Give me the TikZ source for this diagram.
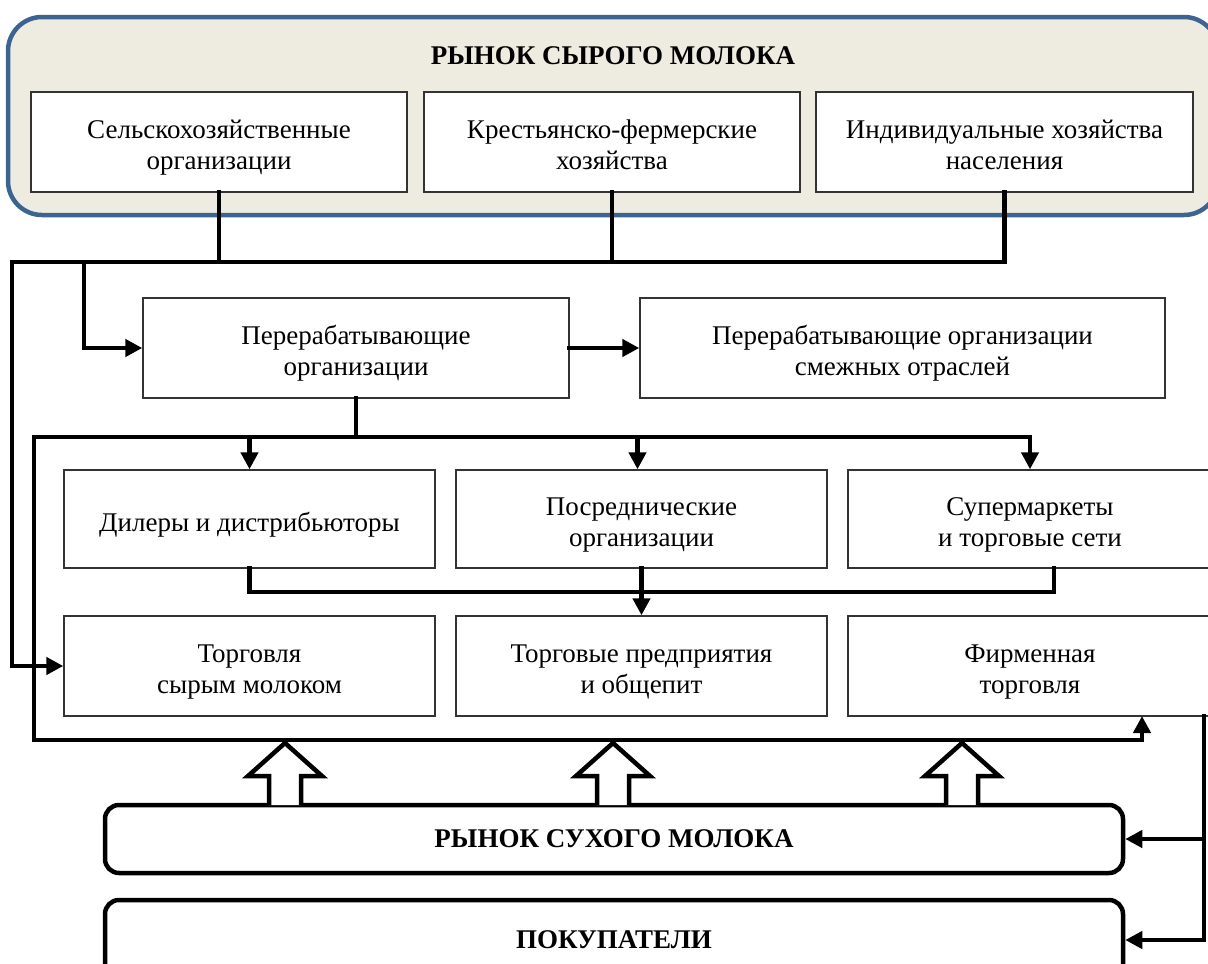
\documentclass[tikz,border=0pt]{standalone}
\usepackage{fontspec}
\setmainfont{Liberation Serif}
\usetikzlibrary{arrows.meta,calc}
\definecolor{bluebd}{HTML}{3C6491}
\definecolor{beige}{HTML}{EEEBE1}
\newcommand\boxtxt[1]{\raisebox{-6pt}[\height][\depth]{\begin{tabular}{@{}c@{}}#1\end{tabular}}}
\begin{document}
\begin{tikzpicture}[x=1pt,y=-1pt,
  box/.style={draw=black!80,line width=1.4pt,fill=white,inner sep=0pt,
    font=\fontsize{27}{31}\selectfont},
  rbox/.style={draw=black,line width=4.5pt,fill=white,rounded corners=14pt,align=center,inner sep=0pt,
    font=\fontsize{27}{31}\selectfont\bfseries},
  conn/.style={line width=4.6pt,line cap=rect},
  tip/.style={-{Triangle[length=17pt,width=17pt]}},
  hollow/.style={draw=black,line width=4.5pt,fill=white,line join=miter}]
\useasboundingbox (0,0) rectangle (1208,964);
% outer raw-milk market
\node[draw=bluebd,line width=4.5pt,fill=beige,rounded corners=34pt,minimum width=1210pt,minimum height=198pt,inner sep=0pt] (raw) at (613,116) {};
\node[font=\fontsize{27}{31}\selectfont\bfseries] (rawt) at (613,56) {РЫНОК СЫРОГО МОЛОКА};
\node[box,minimum width=376pt,minimum height=100pt] (s1) at (219,142) {\boxtxt{Сельскохозяйственные\\организации}};
\node[box,minimum width=376pt,minimum height=100pt] (s2) at (612,142) {\boxtxt{Крестьянско-фермерские\\хозяйства}};
\node[box,minimum width=377pt,minimum height=100pt] (s3) at (1004.5,142) {\boxtxt{Индивидуальные хозяйства\\населения}};
% processors
\node[box,minimum width=426pt,minimum height=100pt] (p1) at (356,348) {\boxtxt{Перерабатывающие\\организации}};
\node[box,minimum width=525pt,minimum height=100pt] (p2) at (902.5,348) {\boxtxt{Перерабатывающие организации\\смежных отраслей}};
% middle row
\node[box,minimum width=371pt,minimum height=98pt] (m1) at (249.5,519) {\boxtxt{Дилеры и дистрибьюторы}};
\node[box,minimum width=371pt,minimum height=98pt] (m2) at (641.5,519) {\boxtxt{Посреднические\\организации}};
\node[box,minimum width=364pt,minimum height=98pt] (m3) at (1030,519) {\boxtxt{Супермаркеты\\и торговые сети}};
% bottom row
\node[box,minimum width=371pt,minimum height=100pt] (b1) at (249.5,666) {\boxtxt{Торговля\\сырым молоком}};
\node[box,minimum width=371pt,minimum height=100pt] (b2) at (641.5,666) {\boxtxt{Торговые предприятия\\и общепит}};
\node[box,minimum width=364pt,minimum height=100pt] (b3) at (1030,666) {\boxtxt{Фирменная\\торговля}};
% dry market and buyers
\node[rbox,minimum width=1018pt,minimum height=68pt] (dry) at (614,839) {РЫНОК СУХОГО МОЛОКА};
\node[rbox,minimum width=1018pt,minimum height=80pt,text depth=0pt] (buy) at (614,940) {ПОКУПАТЕЛИ};
% junction coordinates
\coordinate (jA) at (12,262);
\coordinate (jB) at (84,262);
\coordinate (jC) at (34,437);
\coordinate (jD) at (34,740);
\coordinate (jE) at (1054,592);
\coordinate (jF) at (1204,716);
\coordinate (jG) at (1142,716);
% connectors from raw market
\draw[conn] (s1.south) -- (s1.south |- jA);
\draw[conn] (s2.south) -- (s2.south |- jA);
\draw[conn,tip] (s3.south) |- (jA) |- (b1.west);
\draw[conn,tip] (jB) |- (p1.west);
\draw[conn,tip] (p1.east) -- (p2.west);
% from processors to distribution
\draw[conn] (p1.south) -- (p1.south |- jC);
\draw[conn,tip] (jC) -| (m3.north);
\draw[conn,tip] (m1.north |- jC) -- (m1.north);
\draw[conn,tip] ([xshift=-4pt]m2.north |- jC) -- ([xshift=-4pt]m2.north);
\draw[conn,tip] (jC) -- (jD) -| (jG);
% middle row to bottom row
\draw[conn] (m1.south) |- (jE) -- (jE |- m3.south);
\draw[conn,tip] (m2.south) -- (b2.north);
% right side
\draw[conn,tip] (jF) |- (buy.east);
\draw[conn,tip] (jF |- dry.east) -- (dry.east);
% hollow block arrows
\foreach \x in {285,613,962}{
  \draw[hollow] (\x-16,805) -- (\x-16,776) -- (\x-37,776) -- (\x,743) -- (\x+37,776) -- (\x+16,776) -- (\x+16,805);
}
\end{tikzpicture}
\end{document}
